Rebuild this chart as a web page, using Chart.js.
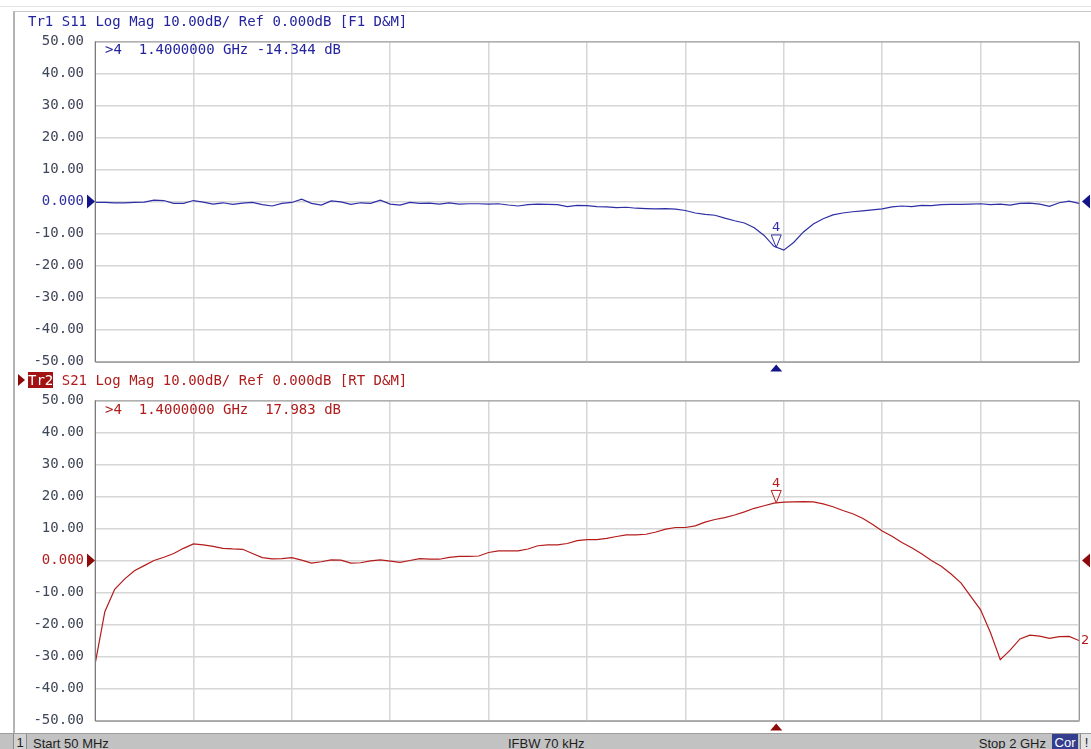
<!DOCTYPE html>
<html><head><meta charset="utf-8">
<script src="https://cdn.jsdelivr.net/npm/chart.js@4/dist/chart.umd.min.js"></script>
<style>
html,body{margin:0;padding:0;background:#fff;}
#page{position:relative;width:1091px;height:749px;overflow:hidden;background:#fff;}
.mono{font-family:'DejaVu Sans Mono',monospace;font-size:14px;line-height:16px;white-space:pre;position:absolute;}
canvas{position:absolute;left:0;}
#status{position:absolute;left:0;top:733px;width:1091px;height:16px;background:#c2c2c2;border-top:1px solid #9c9c9c;font-family:'Liberation Sans',sans-serif;font-size:13px;line-height:16px;color:#1e1e1e;white-space:pre;}
#status span{position:absolute;top:2px;}
</style></head>
<body><div id="page">
<div style="position:absolute;left:0;top:6px;width:1091px;height:1px;background:#e2e2e2"></div>
<div style="position:absolute;left:13px;top:11px;width:1078px;height:722px;border-left:2px solid #b4b4b4;border-top:1px solid #c8c8c8"></div>
<canvas id="c1" width="1091" height="359" style="top:22px"></canvas>
<canvas id="c2" width="1091" height="359" style="top:381px"></canvas>
<div class="mono" id="h1" style="left:28px;top:13px;color:#2424a0"></div>
<div class="mono" id="h2" style="left:18px;top:372px;color:#b01c1c"></div>
<div class="mono" id="r1" style="left:105px;top:41px;color:#2424a0"></div>
<div class="mono" id="r2" style="left:105px;top:401px;color:#b01c1c"></div>
<div id="status">
  <span style="left:13px;top:0;width:12px;height:16px;border-left:1px solid #8a8a8a;border-right:1px solid #8a8a8a;background:#d2d2d2;text-align:center;line-height:18px">1</span>
  <span id="sStart" style="left:33px"></span>
  <span id="sIfbw" style="left:508px"></span>
  <span id="sStop" style="right:45px"></span>
  <span id="sCor" style="left:1052px;top:0;width:26px;height:16px;background:#333f8e;color:#fff;text-align:center;line-height:18px"></span>
  <span style="left:1080px;top:0;width:11px;height:16px;background:#e4e4e4;border-left:1px solid #8a8a8a;text-align:center;line-height:18px">!</span>
</div>
</div>
<script>
// ---------- data ----------
const freqMHz = [50,69.5,89,108.5,128,147.5,167,186.5,206,225.5,
 245,264.5,284,303.5,323,342.5,362,381.5,401,420.5,
 440,459.5,479,498.5,518,537.5,557,576.5,596,615.5,
 635,654.5,674,693.5,713,732.5,752,771.5,791,810.5,
 830,849.5,869,888.5,908,927.5,947,966.5,986,1005.5,
 1025,1044.5,1064,1083.5,1103,1122.5,1142,1161.5,1181,1200.5,
 1220,1239.5,1259,1278.5,1298,1317.5,1337,1356.5,1376,1395.5,
 1415,1434.5,1454,1473.5,1493,1512.5,1532,1551.5,1571,1590.5,
 1610,1629.5,1649,1668.5,1688,1707.5,1727,1746.5,1766,1785.5,
 1805,1824.5,1844,1863.5,1883,1902.5,1922,1941.5,1961,1980.5,
 2000];
const s11dB = [-0.3,-0.3,-0.4,-0.4,-0.3,-0.2,0.4,0.3,-0.6,-0.6,
 0.3,-0.2,-0.8,-0.4,-0.9,-0.5,-0.3,-1.0,-1.4,-0.6,
 -0.3,0.7,-0.6,-1.1,0.2,-0.1,-0.9,-0.4,-0.6,0.4,
 -0.8,-1.1,-0.3,-0.6,-0.5,-0.8,-0.4,-0.8,-0.7,-0.7,
 -0.8,-0.7,-1.1,-1.4,-1.0,-0.8,-0.9,-1.0,-1.6,-1.2,
 -1.3,-1.6,-1.7,-1.9,-1.8,-2.1,-2.2,-2.3,-2.2,-2.4,
 -2.8,-3.6,-4.0,-4.3,-5.2,-6.0,-6.7,-8.2,-10.6,-14.0,
 -15.2,-12.8,-9.5,-7.0,-5.4,-4.2,-3.6,-3.2,-2.9,-2.6,
 -2.3,-1.7,-1.4,-1.6,-1.2,-1.3,-1.0,-0.9,-0.9,-0.8,
 -0.7,-1.0,-0.8,-1.1,-0.6,-0.5,-0.8,-1.5,-0.4,0.1,
 -0.6];
const s21dB = [-32.5,-16,-9.0,-5.8,-3.2,-1.6,0.0,1.0,2.2,3.8,
 5.2,4.9,4.4,3.8,3.6,3.5,2.2,0.9,0.5,0.6,
 0.9,0.1,-0.8,-0.4,0.2,0.1,-0.8,-0.7,-0.1,0.2,
 -0.2,-0.6,0.0,0.6,0.4,0.4,1.0,1.3,1.3,1.4,
 2.5,3.0,3.0,3.0,3.6,4.6,4.9,4.9,5.3,6.2,
 6.5,6.5,6.9,7.5,8.0,8.0,8.2,8.9,9.8,10.3,
 10.3,10.8,12.0,12.8,13.4,14.2,15.2,16.3,17.1,17.9,
 18.2,18.3,18.4,18.3,17.7,16.8,15.6,14.6,13.2,11.3,
 9.2,7.6,5.6,4.0,2.1,0.0,-1.8,-4.2,-7.0,-11.2,
 -15.4,-22.5,-31.0,-28.0,-24.5,-23.3,-23.6,-24.3,-23.8,-23.7,
 -25.0];
const gridFreqs = [50,245,440,635,830,1025,1220,1415,1610,1805,2000];
const yTicks = [50,40,30,20,10,0,-10,-20,-30,-40,-50];
const markerFreq = 1400;
const s11Marker = -14.344;
const s21Marker = 17.983;
const refLevel = 0;
const title1 = 'Tr1 S11 Log Mag 10.00dB/ Ref 0.000dB [F1 D&M]';
const title2Tag = 'Tr2';
const title2 = ' S21 Log Mag 10.00dB/ Ref 0.000dB [RT D&M]';
const readout1 = '>4  1.4000000 GHz -14.344 dB';
const readout2 = '>4  1.4000000 GHz  17.983 dB';
const statusStart = 'Start 50 MHz', statusIfbw = 'IFBW 70 kHz', statusStop = 'Stop 2 GHz', statusCor = 'Cor';

// ---------- text ----------
document.getElementById('h1').textContent = title1;
const h2 = document.getElementById('h2');
h2.innerHTML = '<span style="display:inline-block;width:0;height:0;border-top:6px solid transparent;border-bottom:6px solid transparent;border-left:7px solid #8c0a0a;vertical-align:-1px;margin-right:3px"></span><span style="background:#a31212;color:#fff">' + title2Tag + '</span>';
h2.appendChild(document.createTextNode(title2));
document.getElementById('r1').textContent = readout1;
document.getElementById('r2').textContent = readout2;
document.getElementById('sStart').textContent = statusStart;
document.getElementById('sIfbw').textContent = statusIfbw;
document.getElementById('sStop').textContent = statusStop;
document.getElementById('sCor').textContent = statusCor;

// ---------- plugin ----------
function tri(ctx, p, fill, stroke){
  ctx.beginPath(); ctx.moveTo(p[0][0],p[0][1]); ctx.lineTo(p[1][0],p[1][1]); ctx.lineTo(p[2][0],p[2][1]); ctx.closePath();
  if(fill){ctx.fillStyle=fill;ctx.fill();}
  if(stroke){ctx.strokeStyle=stroke;ctx.lineWidth=1;ctx.stroke();}
}
const vnaDeco = {
  id:'vnaDeco',
  afterDraw(chart, args, o){
    const ctx = chart.ctx, a = chart.chartArea, x = chart.scales.x, y = chart.scales.y;
    ctx.save();
    ctx.strokeStyle = '#9a9a9a'; ctx.lineWidth = 1;
    ctx.beginPath(); ctx.moveTo(a.left, a.top+0.5); ctx.lineTo(a.right+0.5, a.top+0.5); ctx.lineTo(a.right+0.5, a.bottom); ctx.stroke();
    ctx.strokeStyle = '#7a7a7a';
    ctx.beginPath(); ctx.moveTo(a.left+0.5, a.top); ctx.lineTo(a.left+0.5, a.bottom+0.5); ctx.lineTo(a.right+0.5, a.bottom+0.5); ctx.stroke();
    const y0 = y.getPixelForValue(refLevel);
    tri(ctx, [[a.left-8,y0-7],[a.left-8,y0+7],[a.left,y0]], o.dark);
    tri(ctx, [[a.right+11,y0-7],[a.right+11,y0+7],[a.right+3,y0]], o.dark);
    const mx = x.getPixelForValue(markerFreq), my = y.getPixelForValue(o.mval);
    tri(ctx, [[mx-6,a.bottom+10],[mx+6,a.bottom+10],[mx,a.bottom+3]], o.dark);
    tri(ctx, [[mx-5,my-12.5],[mx+5,my-12.5],[mx,my]], null, o.color);
    ctx.fillStyle = o.color; ctx.font = '13px "DejaVu Sans"'; ctx.textAlign = 'center'; ctx.textBaseline = 'bottom';
    ctx.fillText('4', mx, my-13);
    if(o.endLabel){
      const d = chart.data.datasets[0].data; const last = d[d.length-1];
      ctx.textAlign = 'left'; ctx.textBaseline = 'middle';
      ctx.fillText(o.endLabel, a.right+2, y.getPixelForValue(last.y));
    }
    ctx.restore();
  }
};

function makeChart(id, vals, color, dark, mval, endLabel){
  return new Chart(document.getElementById(id), {
    type:'line',
    data:{datasets:[{data: freqMHz.map((f,i)=>({x:f,y:vals[i]})), borderColor:color, borderWidth:1.2, pointRadius:0, tension:0, fill:false}]},
    options:{
      responsive:false, animation:false, events:[],
      layout:{padding:{top:0,bottom:0,left:0,right:12}},
      plugins:{legend:{display:false}, tooltip:{enabled:false}, vnaDeco:{color:color, dark:dark, mval:mval, endLabel:endLabel}},
      scales:{
        x:{type:'linear', min:50, max:2000,
           afterBuildTicks:s=>{s.ticks = gridFreqs.map(v=>({value:v}));},
           afterFit:s=>{s.height=0;},
           ticks:{display:false},
           grid:{color:'#d6d6d6', lineWidth:1.5, drawTicks:false},
           border:{display:false}},
        y:{min:-50, max:50,
           afterBuildTicks:s=>{s.ticks = yTicks.map(v=>({value:v}));},
           afterFit:s=>{s.width=95;},
           ticks:{padding:11, color:c=>c.tick && c.tick.value===0 ? color : '#3f4658',
                  font:{family:'DejaVu Sans Mono', size:14},
                  callback:v=> v===0 ? '0.000' : v.toFixed(2)},
           grid:{color:'#d6d6d6', lineWidth:1.5, drawTicks:false},
           border:{display:false}}
      }
    },
    plugins:[vnaDeco]
  });
}
makeChart('c1', s11dB, '#2e2ea6', '#14148a', s11Marker, null);
makeChart('c2', s21dB, '#b41c1c', '#8e0a0a', s21Marker, '2');
</script>
</body></html>
